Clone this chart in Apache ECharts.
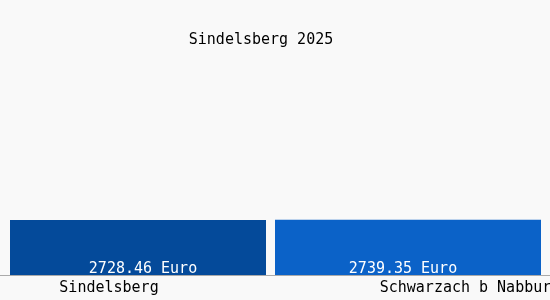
<!DOCTYPE html>
<html><head><meta charset="utf-8">
<script src="https://cdn.jsdelivr.net/npm/echarts@6/dist/echarts.min.js"></script>
<style>html,body{margin:0;padding:0;background:#f9f9f9}#c{width:550px;height:300px}</style>
</head><body><div id="c"></div>
<script>
const titleText = 'Sindelsberg 2025';
const categories = ['Sindelsberg', 'Schwarzach b Nabburg'];
const values = [2728.46, 2739.35];
const valueSuffix = ' Euro';
const barColors = ['#044a9a', '#0b62c8'];

const font = '"DejaVu Sans Mono", monospace';
const chart = echarts.init(document.getElementById('c'), null, {renderer: 'canvas'});
const grids = [
  {left: 0, right: 274, top: 55, bottom: 25, containLabel: false, outerBoundsMode: 'none'},
  {left: 266, right: 0, top: 55, bottom: 25, containLabel: false, outerBoundsMode: 'none'}
];
const barWidths = [256, 266];
const labelOffsets = [[5, 2], [-5, 2]];
const catPadding = [[0, 58, 0, 0], [0, 0, 0, 124]];
chart.setOption({
  backgroundColor: '#f9f9f9',
  animation: false,
  title: {text: titleText, left: 256, top: 28, textAlign: 'center',
    textStyle: {fontFamily: font, fontSize: 15, fontWeight: 'normal', color: '#000'}},
  grid: grids,
  xAxis: categories.map((c, i) => ({type: 'category', gridIndex: i, data: [c],
    axisLine: {lineStyle: {color: '#aaa'}}, axisTick: {show: false},
    axisLabel: {margin: 6, interval: 0, hideOverlap: false, fontFamily: font, fontSize: 15, color: '#000',
      formatter: v => '{a|' + v + '}',
      rich: {a: {fontFamily: font, fontSize: 15, color: '#000', padding: catPadding[i]}}}})),
  yAxis: categories.map((c, i) => ({type: 'value', gridIndex: i, min: 0, max: 10920, show: false, splitLine: {show: false}})),
  series: values.map((v, i) => ({
    type: 'bar', xAxisIndex: i, yAxisIndex: i, barWidth: barWidths[i],
    data: [{value: v, itemStyle: {color: barColors[i]}}],
    label: {show: true, position: 'insideBottom', distance: 0, color: '#fff',
      offset: labelOffsets[i], fontFamily: font, fontSize: 15,
      formatter: p => p.value.toFixed(2) + valueSuffix}
  }))
});
</script></body></html>
